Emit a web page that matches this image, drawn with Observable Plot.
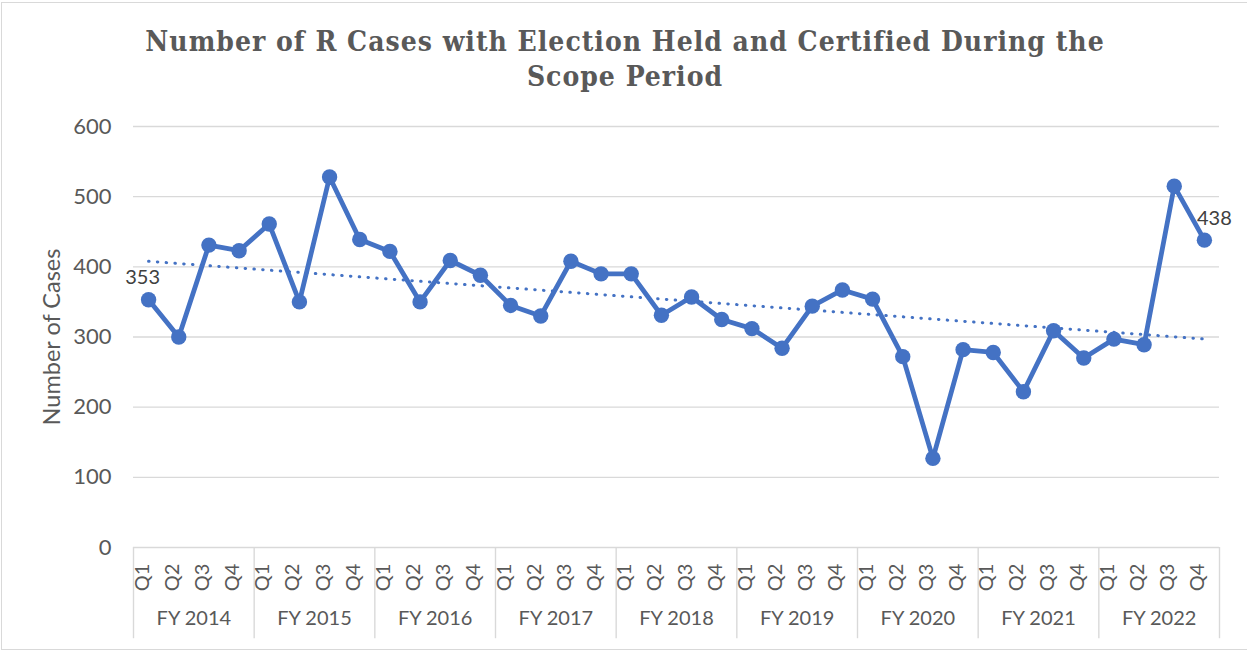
<!DOCTYPE html>
<html>
<head>
<meta charset="utf-8">
<script src="https://cdn.jsdelivr.net/npm/d3@7"></script>
<script src="https://cdn.jsdelivr.net/npm/@observablehq/plot@0.6"></script>
<style>
  html, body { margin: 0; padding: 0; background: #fff; }
  #wrap { position: relative; width: 1247px; height: 652px; overflow: hidden; background: #fff; }
  #frame { position: absolute; left: 1px; top: 2px; width: 1250px; height: 648px; border: 1px solid #d9d9d9; box-sizing: border-box; }
  #title { position: absolute; left: 0; top: 24px; width: 1250px; text-align: center;
    font-family: "DejaVu Serif Condensed", "DejaVu Serif", serif; font-stretch: condensed;
    font-weight: bold; font-size: 28px; letter-spacing: 1px; line-height: 35px; color: #595959; }
  #chart { position: absolute; left: 0; top: 100px; }
</style>
</head>
<body>
<div id="wrap">
  <div id="frame"></div>
  <div id="title">Number of R Cases with Election Held and Certified During the<br>Scope Period</div>
  <div id="chart"></div>
</div>
<script>
const years = ["FY 2014", "FY 2015", "FY 2016", "FY 2017", "FY 2018", "FY 2019", "FY 2020", "FY 2021", "FY 2022"];
const quarters = ["Q1", "Q2", "Q3", "Q4"];
const values = [
  353, 300, 431, 423,
  461, 350, 528, 439,
  422, 350, 409, 388,
  345, 330, 408, 390,
  390, 331, 357, 325,
  312, 284, 344, 367,
  354, 272, 127, 282,
  278, 222, 309, 270,
  297, 289, 515, 438
];
const yTicks = [0, 100, 200, 300, 400, 500, 600];
const yLabel = "Number of Cases";
const labelledIdx = [0, 35];

const data = values.map((v, i) => ({
  i, v,
  q: quarters[i % 4],
  fy: years[Math.floor(i / 4)]
}));
const groups = years.map((fy, k) => ({ fy, center: k * 4 + 1.5 }));
const separators = d3.range(years.length + 1).map(k => k * 4 - 0.5);

const blue = "#4472C4";
const gray = "#595959";
const grid = "#d9d9d9";
const font = "Lato, 'Open Sans', sans-serif";

const plot = Plot.plot({
  width: 1247,
  height: 552,
  marginLeft: 133,
  marginRight: 28,
  marginTop: 26,
  marginBottom: 105,
  style: { fontFamily: font, background: "transparent", overflow: "visible" },
  x: { domain: [-0.5, values.length - 0.5], axis: null },
  y: { domain: [0, 600], axis: null },
  marks: [
    Plot.ruleY(yTicks.filter(d => d > 0), { stroke: grid, strokeWidth: 1.4 }),
    Plot.ruleY([0], { stroke: grid, strokeWidth: 1.6 }),
    Plot.text(yTicks, { y: d => d, text: d => String(d), frameAnchor: "left", dx: -22, textAnchor: "end", fontSize: 22, fill: gray }),
    Plot.text([yLabel], { frameAnchor: "left", dx: -81, rotate: -90, fontSize: 23.5, fill: gray, textAnchor: "middle" }),
    Plot.ruleX(separators, { x: d => d, y1: 0, y2: -130, stroke: grid, strokeWidth: 1.4 }),
    Plot.text(data, { x: "i", text: "q", frameAnchor: "bottom", dy: 30, rotate: -90, textAnchor: "middle", fontSize: 20, fill: gray }),
    Plot.text(groups, { x: "center", text: "fy", frameAnchor: "bottom", dy: 77, textAnchor: "middle", fontSize: 20, fill: gray }),
    Plot.linearRegressionY(data, { x: "i", y: "v", ci: 0, stroke: blue, strokeWidth: 3, strokeDasharray: "0.5,8.3", strokeLinecap: "round" }),
    Plot.line(data, { x: "i", y: "v", stroke: blue, strokeWidth: 4.8, strokeLinejoin: "round" }),
    Plot.dot(data, { x: "i", y: "v", r: 7.7, fill: blue, stroke: "none" }),
    Plot.text(data.filter(d => d.i === labelledIdx[0]), { x: "i", y: "v", text: d => String(d.v), dx: -6, dy: -22, fontSize: 20, fill: "#404040" }),
    Plot.text(data.filter(d => d.i === labelledIdx[1]), { x: "i", y: "v", text: d => String(d.v), dx: 10, dy: -22, fontSize: 20, fill: "#404040" })
  ]
});
document.getElementById("chart").appendChild(plot);
</script>
</body>
</html>
